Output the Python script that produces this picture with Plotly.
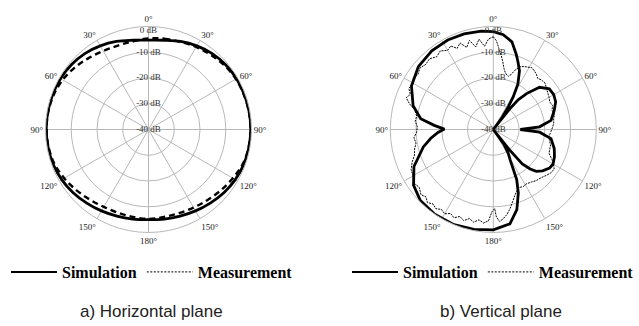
import plotly.graph_objects as go

# ---------------- data ----------------
ANG_TICKS = [0, 30, 60, 90, 120, 150, 180, 210, 240, 270, 300, 330]
ANG_LABELS = ["0°", "30°", "60°", "90°", "120°", "150°", "180°",
              "150°", "120°", "90°", "60°", "30°"]
DB_TICKS = [0, -10, -20, -30, -40]
DB_LABELS = ["0 dB", "-10 dB", "-20 dB", "-30 dB", "-40 dB"]

# a) Horizontal plane
h_theta = [0, 10, 20, 30, 40, 50, 60, 70, 80, 90, 100, 110, 120, 130, 140, 150,
           160, 170, 180, 190, 200, 210, 220, 230, 240, 250, 260, 270, 280, 290,
           300, 310, 320, 330, 340, 350, 360]
h_sim = [-5.3, -4.8, -3.6, -2.5, -1.5, -0.9, -0.5, -0.4, -0.3, -0.3, -0.4, -0.6,
         -1.1, -1.8, -2.7, -3.5, -4.2, -4.7, -5.0, -4.7, -4.2, -3.5, -2.7, -1.8,
         -1.1, -0.6, -0.4, -0.3, -0.3, -0.4, -0.5, -0.9, -1.5, -2.5, -3.6, -4.8, -5.3]
h_meas = [-4.6, -4.2, -3.8, -3.0, -2.2, -1.4, -0.8, -0.6, -0.4, -0.4, -0.5, -1.0,
          -2.2, -3.3, -4.3, -5.0, -5.4, -5.5, -5.3, -5.5, -5.6, -5.3, -4.5, -3.4,
          -2.2, -1.1, -0.6, -0.4, -0.5, -0.8, -1.5, -2.6, -3.8, -4.8, -5.3, -5.2, -4.6]

# b) Vertical plane
v_sim_theta = [0, 6, 12, 17, 20, 24, 28.5, 31.5, 33.5, 36, 37.5, 38.5, 40, 42.8,
               47.6, 54, 60, 66, 72.6, 81, 86.7, 90, 93.3, 99, 107.4, 114, 120,
               124.5, 130, 134.3, 137, 140, 141.5, 142.5, 144, 148, 151, 155,
               158.5, 163.6, 170, 180, 191, 203, 215, 226, 235, 245, 256, 262,
               267, 270.5, 274, 278.4, 286.6, 298, 310, 322, 333, 343, 353, 360]
v_sim = [-2.0, -3.0, -5.2, -9.5, -12.0, -15.0, -20.0, -25.3, -29.5, -34.0, -40.0,
         -30.0, -25.0, -21.0, -15.7, -13.1, -12.9, -13.5, -15.2, -17.3, -22.0,
         -29.5, -22.0, -17.3, -15.2, -14.0, -13.2, -13.5, -15.0, -16.7, -19.0,
         -22.5, -30.0, -40.0, -33.0, -29.0, -26.5, -18.5, -13.5, -7.6, -2.8, -1.0,
         -0.5, 0.0, 0.0, -0.5, -2.2, -6.0, -12.0, -15.5, -18.5, -21.0, -17.0,
         -11.5, -7.5, -4.0, -2.0, -1.2, -1.0, -1.2, -1.5, -2.0]

v_meas_theta = [0, 2, 4, 6, 8, 10, 12, 14, 16, 18, 20, 23, 26, 29, 32, 35, 38, 41,
                44, 48, 52, 56, 60, 64, 68, 72, 76, 80, 84, 88, 92, 97, 101, 105,
                109, 113, 117, 120, 123, 127, 131, 135, 140, 144, 149, 152, 156,
                159, 162, 165, 168, 171, 174, 176, 178, 179, 181, 183, 186, 189,
                192, 195, 198, 201, 204, 207, 210, 213, 216, 219, 222, 225, 228,
                232, 236, 240, 244, 248, 252, 256, 260, 264, 268, 272, 276, 280,
                284, 287, 290, 293, 296, 300, 303, 306, 310, 314, 318, 322, 326,
                330, 333, 336, 339, 342, 345, 348, 351, 354, 357, 360]
v_meas = [-4.0, -5.5, -8.5, -11.0, -13.5, -16.0, -17.5, -18.2, -18.5, -17.5, -15.5,
          -13.5, -12.8, -12.3, -11.7, -12.2, -12.8, -13.7, -13.2, -13.0, -13.8,
          -14.5, -15.0, -15.6, -15.2, -16.0, -15.5, -16.2, -16.4, -17.0, -17.6,
          -18.2, -17.8, -17.0, -16.8, -16.5, -14.5, -13.0, -11.8, -12.0, -12.8,
          -13.6, -14.1, -14.8, -15.3, -15.0, -15.3, -14.5, -13.0, -11.0, -8.6,
          -6.5, -5.0, -4.2, -6.0, -9.3, -8.0, -4.5, -3.5, -4.5, -3.2, -4.2, -2.8,
          -3.8, -2.5, -3.4, -2.2, -3.0, -2.0, -2.8, -1.8, -3.0, -2.2, -3.5, -2.8,
          -4.0, -4.5, -6.0, -7.8, -8.5, -9.5, -9.0, -10.2, -10.5, -9.5, -9.8,
          -8.5, -6.0, -4.0, -5.0, -3.5, -4.2, -3.0, -3.8, -2.8, -3.6, -3.0, -4.2,
          -3.2, -4.5, -3.6, -5.5, -4.0, -6.5, -4.2, -7.2, -4.5, -7.5, -4.8, -4.0]

CAPTIONS = ["a) Horizontal plane", "b) Vertical plane"]
SERIES = ["Simulation", "Measurement"]

# ---------------- figure ----------------
W, H = 639, 326
fig = go.Figure()

SERIF = "Liberation Serif"


def dom_x(cx, R):
    return [(cx - R) / W, (cx + R) / W]


def dom_y(cy, R):
    return [1 - (cy + R) / H, 1 - (cy - R) / H]


R = 103
CY = 129.5

# Horizontal plane traces
fig.add_trace(go.Scatterpolar(r=h_sim, theta=h_theta, mode="lines", subplot="polar",
                              line=dict(color="black", width=2.8, shape="spline", smoothing=1),
                              showlegend=False, hoverinfo="skip"))
fig.add_trace(go.Scatterpolar(r=h_meas, theta=h_theta, mode="lines", subplot="polar",
                              line=dict(color="black", width=2.4, dash="6px,4px", shape="spline", smoothing=1),
                              showlegend=False, hoverinfo="skip"))
# Vertical plane traces
fig.add_trace(go.Scatterpolar(r=v_sim, theta=v_sim_theta, mode="lines", subplot="polar2",
                              line=dict(color="black", width=2.8),
                              showlegend=False, hoverinfo="skip"))
fig.add_trace(go.Scatterpolar(r=v_meas, theta=v_meas_theta, mode="lines", subplot="polar2",
                              line=dict(color="black", width=1, dash="2px,1px"),
                              showlegend=False, hoverinfo="skip"))

# dB labels on the 0° spoke
DB_POS = ["bottom center"] + ["middle center"] * (len(DB_TICKS) - 1)
for sp in ["polar", "polar2"]:
    fig.add_trace(go.Scatterpolar(r=DB_TICKS, theta=[0] * len(DB_TICKS), mode="text",
                                  text=DB_LABELS, textposition=DB_POS, subplot=sp,
                                  cliponaxis=False,
                                  textfont=dict(family=SERIF, size=9, color="#333"),
                                  showlegend=False, hoverinfo="skip"))

# legend entries
for sp, lg in [("polar", "legend"), ("polar2", "legend2")]:
    fig.add_trace(go.Scatterpolar(r=[None], theta=[None], mode="lines", subplot=sp,
                                  name=SERIES[0], legend=lg,
                                  line=dict(color="black", width=2)))
    fig.add_trace(go.Scatterpolar(r=[None], theta=[None], mode="lines", subplot=sp,
                                  name=SERIES[1], legend=lg,
                                  line=dict(color="black", width=1, dash="2px,1.5px")))

grid = "#b8b8b8"
polar_common = dict(
    bgcolor="white",
    angularaxis=dict(rotation=90, direction="clockwise", tickmode="array",
                     tickvals=ANG_TICKS, ticktext=ANG_LABELS, showgrid=True,
                     gridcolor=grid, gridwidth=1, showline=True, linecolor=grid,
                     linewidth=1, ticks="",
                     tickfont=dict(family=SERIF, size=9, color="#222")),
    radialaxis=dict(range=[-40, 0], tickmode="array", tickvals=[-30, -20, -10],
                    showticklabels=False, ticks="", showline=False,
                    gridcolor=grid, gridwidth=1),
)

legend_common = dict(orientation="h", yanchor="middle",
                     font=dict(family=SERIF, size=16, color="black", weight="bold"),
                     bgcolor="rgba(0,0,0,0)", itemwidth=46,
                     tracegroupgap=0, itemclick=False, itemdoubleclick=False)

fig.update_layout(
    width=W, height=H, margin=dict(l=0, r=0, t=0, b=0),
    paper_bgcolor="white", plot_bgcolor="white",
    polar=dict(domain=dict(x=dom_x(148.5, R), y=dom_y(CY, R)), **polar_common),
    polar2=dict(domain=dict(x=dom_x(493.3, R), y=dom_y(CY, R)), **polar_common),
    legend=dict(x=6 / W, xanchor="left", y=1 - 272 / H, **legend_common),
    legend2=dict(x=1.0, xanchor="right", y=1 - 272 / H, **legend_common),
    annotations=[
        dict(text=CAPTIONS[0], x=151 / W, y=1 - 311 / H, xref="paper", yref="paper",
             xanchor="center", yanchor="middle", showarrow=False,
             font=dict(family="Liberation Sans", size=17, color="#222")),
        dict(text=CAPTIONS[1], x=501 / W, y=1 - 311 / H, xref="paper", yref="paper",
             xanchor="center", yanchor="middle", showarrow=False,
             font=dict(family="Liberation Sans", size=17, color="#222")),
    ],
)

fig.write_html("out.html", config={"displayModeBar": False},
               post_script="document.body.style.margin='0';")
